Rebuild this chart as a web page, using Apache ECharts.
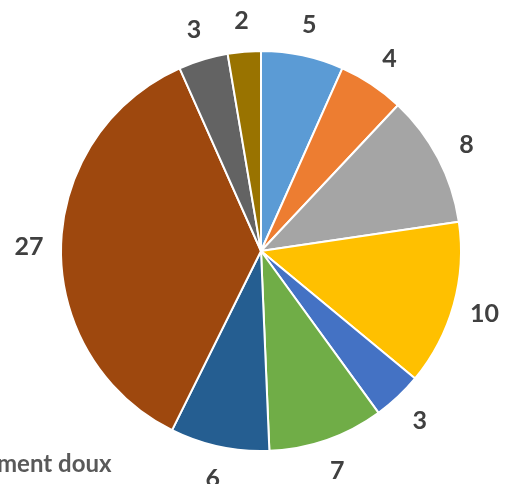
<html lang="fr">
<head>
    <meta charset="UTF-8">
    <title>Pie</title>
    <script src="https://cdn.jsdelivr.net/npm/echarts@6/dist/echarts.min.js"></script>
</head>
<style>
    body { margin: 0; background: #fff; }
    #container { width: 507px; height: 484px; }
</style>
<body>
<div id="container"></div>
<script>
    // parts du camembert, dans l'ordre horaire depuis midi
    var categories = ['A', 'B', 'C', 'D', 'E', 'F', 'G', 'H', 'I', 'J'];
    var values = [5, 4, 8, 10, 3, 7, 6, 27, 3, 2];
    var colors = ['#5B9BD5', '#ED7D31', '#A5A5A5', '#FFC000', '#4472C4',
                  '#70AD47', '#255E91', '#9E480E', '#636363', '#997300'];
    var legendText = 'ment doux';

    var chart = echarts.init(document.getElementById('container'));

    var data = [];
    var labelData = [];
    for (var i = 0; i < values.length; i++)
    {
        data.push({name: categories[i], value: values[i], itemStyle: {color: colors[i]}});
        labelData.push({name: categories[i], value: values[i]});
    }

    var option = {
        animation: false,
        graphic: [{
            type: 'text',
            x: -3,
            y: 452,
            style: {
                text: legendText,
                fill: '#595959',
                font: 'bold 24px Lato',
                verticalAlign: 'top'
            }
        }],
        series: [{
            type: 'pie',
            center: [261, 251],
            radius: [0, 200],
            startAngle: 90,
            clockwise: true,
            itemStyle: {borderColor: '#fff', borderWidth: 2},
            label: {show: false},
            labelLine: {show: false},
            data: data
        }, {
            // anneau invisible qui porte les étiquettes centrées autour du camembert
            type: 'pie',
            center: [261, 252],
            radius: [206, 252],
            startAngle: 90,
            clockwise: true,
            silent: true,
            itemStyle: {color: 'rgba(0,0,0,0)'},
            label: {
                show: true,
                position: 'inside',
                formatter: '{c}',
                color: '#404040',
                fontFamily: 'Lato',
                fontWeight: 'bold',
                fontSize: 25
            },
            labelLine: {show: false},
            data: labelData
        }]
    };

    chart.setOption(option);
</script>
</body>
</html>
